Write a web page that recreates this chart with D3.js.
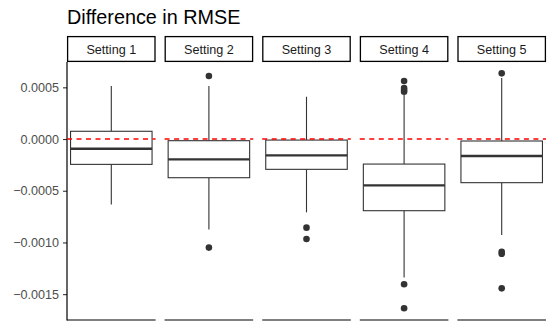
<!DOCTYPE html>
<html>
<head>
<meta charset="utf-8">
<script src="https://cdn.jsdelivr.net/npm/d3@7"></script>
<style>
  body { margin: 0; background: white; }
  svg { font-family: "Liberation Sans", Arial, sans-serif; }
</style>
</head>
<body>
<div id="chart"></div>
<script>
var settings = ['Setting 1', 'Setting 2', 'Setting 3', 'Setting 4', 'Setting 5'];
// [lower whisker, Q1, median, Q3, upper whisker]
var boxStats = [
    [-0.000632, -0.000245, -0.000094, 0.000075, 0.000513],
    [-0.000874, -0.000374, -0.000196, -0.000016, 0.000513],
    [-0.000709, -0.000293, -0.000158, -0.000010, 0.000409],
    [-0.00134, -0.000693, -0.000448, -0.000242, 0.000425],
    [-0.000928, -0.000422, -0.000164, -0.000019, 0.000590]
];
var outliers = [
    [],
    [0.000609, -0.00105],
    [-0.000857, -0.000967],
    [0.000561, 0.000494, 0.000475, 0.000458, -0.001405, -0.001637],
    [0.000635, -0.00109, -0.00111, -0.001444]
];
var yTicks = [0.0005, 0.0000, -0.0005, -0.0010, -0.0015];

var width = 555;
var height = 333;
var plotLeft = 67;
var plotRight = 546;
var plotTop = 62;
var plotBottom = 320;
var gap = 9;
var stripH = 26;

var svg = d3.select('#chart').append('svg')
    .attr('width', width)
    .attr('height', height);

svg.append('text')
    .text('Difference in RMSE')
    .attr('x', plotLeft)
    .attr('y', 23.5)
    .attr('font-size', 19.8)
    .attr('fill', '#000');

var step = (plotRight - plotLeft + gap) / settings.length;
var panel = d3.scaleBand()
    .domain(settings)
    .range([plotLeft, plotRight])
    .paddingInner(gap / step)
    .paddingOuter(0);

var y = d3.scaleLinear()
    .domain([-0.00175, 0.000745])
    .range([plotBottom, plotTop]);

var yAxis = d3.axisLeft(y)
    .tickValues(yTicks)
    .tickSize(4)
    .tickPadding(4)
    .tickFormat(d3.format('.4f'));

var ax = svg.append('g')
    .attr('transform', `translate(${plotLeft},0)`)
    .call(yAxis);
ax.select('.domain').remove();
ax.selectAll('.tick line').attr('stroke', '#333').attr('stroke-width', 1.1);
ax.selectAll('.tick text')
    .attr('fill', '#4d4d4d')
    .attr('font-size', 12.6)
    .attr('font-family', '"Liberation Sans", Arial, sans-serif');

svg.append('line')
    .attr('x1', plotLeft).attr('x2', plotLeft)
    .attr('y1', plotTop).attr('y2', plotBottom + 0.6)
    .attr('stroke', '#000').attr('stroke-width', 1.2);

var pw = panel.bandwidth();

settings.forEach((s, i) => {
    var x0 = panel(s);
    var cx = x0 + pw / 2;
    var bw = pw * 0.92;
    var st = boxStats[i];
    var g = svg.append('g');

    // strip
    g.append('rect')
        .attr('x', x0 + 0.6).attr('y', 36.6)
        .attr('width', pw - 1.2).attr('height', stripH - 1.2)
        .attr('fill', 'white').attr('stroke', '#000').attr('stroke-width', 1.3);
    g.append('text')
        .text(s)
        .attr('x', cx).attr('y', 54)
        .attr('text-anchor', 'middle')
        .attr('font-size', 12.6)
        .attr('fill', '#1a1a1a');

    // bottom axis line
    g.append('line')
        .attr('x1', x0).attr('x2', x0 + pw)
        .attr('y1', plotBottom).attr('y2', plotBottom)
        .attr('stroke', '#000').attr('stroke-width', 1.2);

    // whiskers
    g.append('line')
        .attr('x1', cx).attr('x2', cx)
        .attr('y1', y(st[4])).attr('y2', y(st[3]))
        .attr('stroke', '#333').attr('stroke-width', 1.1);
    g.append('line')
        .attr('x1', cx).attr('x2', cx)
        .attr('y1', y(st[1])).attr('y2', y(st[0]))
        .attr('stroke', '#333').attr('stroke-width', 1.1);

    // box
    g.append('rect')
        .attr('x', cx - bw / 2).attr('y', y(st[3]))
        .attr('width', bw).attr('height', y(st[1]) - y(st[3]))
        .attr('fill', 'white').attr('stroke', '#333').attr('stroke-width', 1.1);
    g.append('line')
        .attr('x1', cx - bw / 2).attr('x2', cx + bw / 2)
        .attr('y1', y(st[2])).attr('y2', y(st[2]))
        .attr('stroke', '#333').attr('stroke-width', 2.3);

    g.selectAll('circle')
        .data(outliers[i])
        .enter()
        .append('circle')
        .attr('cx', cx)
        .attr('cy', d => y(d))
        .attr('r', 3.3)
        .attr('fill', '#333');

    // reference line
    g.append('line')
        .attr('x1', x0).attr('x2', x0 + pw)
        .attr('y1', y(0)).attr('y2', y(0))
        .attr('stroke', '#ff0000').attr('stroke-width', 1.4)
        .attr('stroke-dasharray', '5,4.5');
});
</script>
</body>
</html>
